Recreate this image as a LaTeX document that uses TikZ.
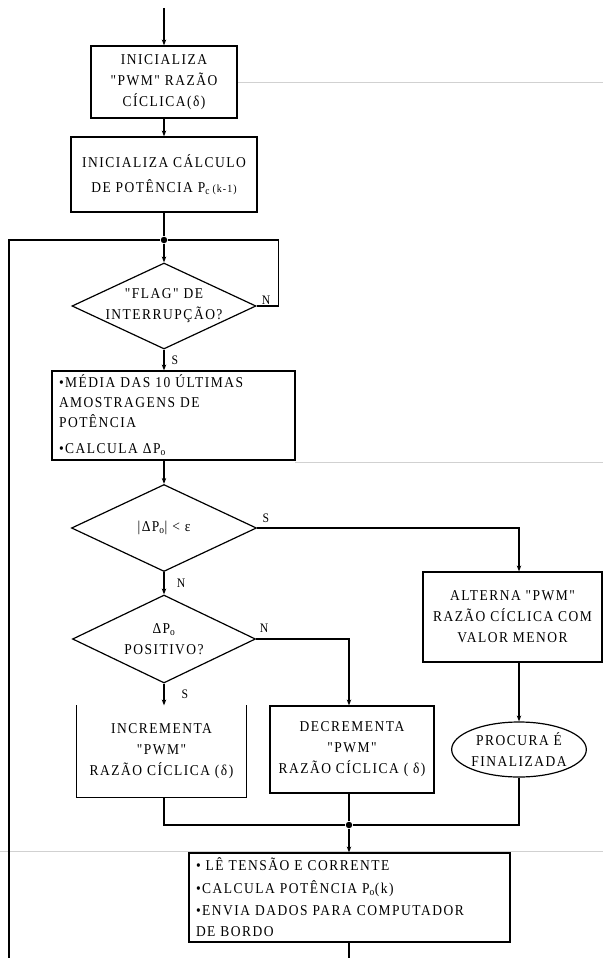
\documentclass[tikz,border=0pt]{standalone}
\usepackage{fontspec}
\setmainfont[Ligatures=TeXOff,LetterSpace=10,FakeStretch=0.9]{Liberation Serif}
\usetikzlibrary{shapes.geometric,arrows.meta,calc}
\begin{document}
\begin{tikzpicture}[x=1pt,y=-1pt,
  line width=1.2pt,
  every node/.style={font=\fontsize{15}{21}\selectfont},
  box/.style={draw, rectangle, inner sep=0pt, align=center},
  lbox/.style={draw, rectangle, inner xsep=7pt, inner ysep=0pt, align=left},
  dec/.style={draw, diamond, inner sep=0pt},
  term/.style={draw, ellipse, inner sep=0pt, align=center},
  txt/.style={inner sep=0pt, align=center},
  lab/.style={inner sep=0pt, font=\fontsize{13}{15}\selectfont},
  arr/.style={-{Stealth[length=6pt,width=4.5pt]}},
  dot/.style={circle, fill, inner sep=0pt, minimum size=6.5pt},
  scan/.style={draw=black!18, line width=0.8pt}
]
\useasboundingbox (0,0) rectangle (603,958);

% faint scan lines
\path[scan] (237,82) -- (603,82);
\path[scan] (295,462) -- (603,462);
\path[scan] (0,851) -- (603,851);

% nodes
\coordinate (start) at (164,8);
\node[box, minimum width=146pt, minimum height=72pt] (b1) at (164,82)
  {INICIALIZA\\ "PWM" RAZÃO\\ CÍCLICA(δ)};
\node[box, minimum width=186pt, minimum height=75pt] (b2) at (164,174.5)
  {INICIALIZA CÁLCULO\\[4pt] DE POTÊNCIA P\textsubscript{c}\,{\fontsize{11}{13}\selectfont(k-1)}};
\node[dot] (j1) at (164,240) {};
\node[dec, minimum width=184pt, minimum height=86pt] (d1) at (164,306) {};
\node[txt] at (d1) {"FLAG" DE\\ INTERRUPÇÃO?};
\node[lbox, text width=229pt, minimum height=89pt] (b3) at (173.5,415.5)
  {\fontsize{15}{20}\selectfont •MÉDIA DAS 10 ÚLTIMAS\\ AMOSTRAGENS DE\\ POTÊNCIA\\[5pt] •CALCULA ΔP\textsubscript{o}};
\node[dec, minimum width=185pt, minimum height=87pt] (d2) at (164,528) {};
\node[txt] at (d2) {|ΔP\textsubscript{o}| < ε};
\node[dec, minimum width=183pt, minimum height=88pt] (d3) at (164,639) {};
\node[txt] at (d3) {ΔP\textsubscript{o}\\ POSITIVO?};
\node[box, minimum width=179pt, minimum height=90pt] (b4) at (512.5,617)
  {ALTERNA "PWM"\\ RAZÃO CÍCLICA COM\\ VALOR MENOR};
\node[box, draw=none, minimum width=169pt, minimum height=91pt] (b5) at (161.5,751.5)
  {\fontsize{15}{20}\selectfont INCREMENTA\\ "PWM"\\ RAZÃO CÍCLICA (δ)};
\node[box, minimum width=164pt, minimum height=87pt] (b6) at (352,749.5)
  {\fontsize{15}{20}\selectfont DECREMENTA\\ "PWM"\\ RAZÃO CÍCLICA ( δ)};
\node[term, minimum width=124pt, minimum height=55pt] (e1) at (519,749.5)
  {PROCURA É\\ FINALIZADA};
\node[dot] (j2) at (349,825) {};
\node[lbox, text width=307pt, minimum height=89pt] (b7) at (349.5,897.5)
  {\fontsize{15}{22.5}\selectfont • LÊ TENSÃO E CORRENTE\\ •CALCULA POTÊNCIA P\textsubscript{o}(k)\\ •ENVIA DADOS PARA COMPUTADOR\\ DE BORDO};
\coordinate (endb) at (349,958);
\coordinate (loopL) at (9,958);

% box without top edge
\draw (b5.north west) -- (b5.south west) -- (b5.south east) -- (b5.north east);

% connectors
\draw[arr] (start) -- (b1.north);
\draw[arr] (b1) -- (b2);
\draw (b2.south) -- (j1);
\draw[arr] (j1) -- (d1.north);
\draw (d1.east) -- ++(22,0) |- (j1);
\draw (loopL) |- (j1);
\draw[arr] (d1.south) -- (b3.north -| d1.south);
\draw[arr] (b3.south -| d2.north) -- (d2.north);
\draw[arr] (d2.east) -| (b4.north -| e1.north);
\draw[arr] (d2.south) -- (d3.north);
\draw[arr] (d3.east) -| (b6.north -| j2);
\draw[arr] (d3.south) -- (b5.north -| d3.south);
\draw[arr] (b4.south -| e1.north) -- (e1.north);
\draw (b5.south -| d3.south) |- (j2);
\draw (b6.south -| j2) -- (j2);
\draw (e1.south) |- (j2);
\draw[arr] (j2) -- (b7.north -| j2);
\draw (b7.south -| endb) -- (endb);

% labels
\node[lab] at (266,300) {N};
\node[lab] at (175,360) {S};
\node[lab] at (266,518) {S};
\node[lab] at (181,583) {N};
\node[lab] at (264,628) {N};
\node[lab] at (185,694) {S};
\end{tikzpicture}
\end{document}
